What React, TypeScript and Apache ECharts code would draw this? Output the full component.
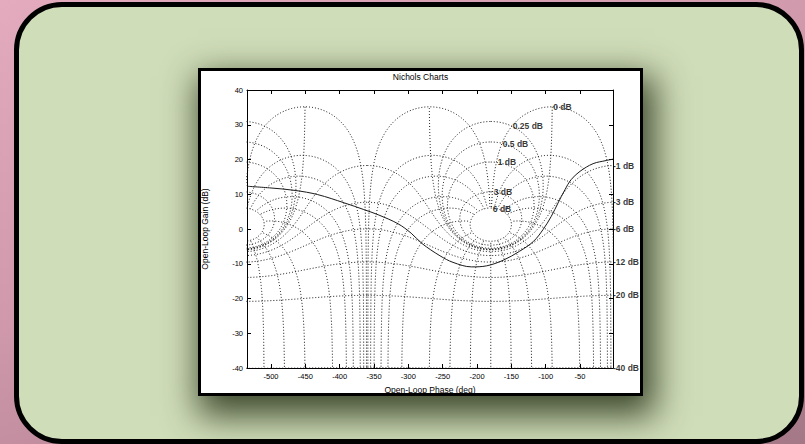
import React, { useEffect, useRef } from "react";
import * as echarts from "echarts";

// ---- axis definitions ----
const phaseMin = -535;
const phaseMax = -2;
const phaseTicks = [-500, -450, -400, -350, -300, -250, -200, -150, -100, -50];
const gainMin = -40;
const gainMax = 40;
const gainStep = 10;

// ---- open-loop response ----
const curvePhase = [-535, -500, -465, -432, -393, -365, -344, -315, -296, -280, -254, -235, -208, -186, -162, -138, -118, -104, -92, -82, -72, -63, -50, -31, -12, -2];
const curveGain = [12.3, 11.8, 11.1, 9.9, 7.5, 5.6, 4.1, 1.5, -1.2, -4.2, -7.7, -9.6, -10.9, -10.6, -9.0, -6.4, -3.6, -0.2, 3.6, 7.5, 11.3, 14.2, 16.6, 18.8, 19.7, 20.1];

// ---- Nichols grid levels ----
const mLevelsDb = [6, 3, 1, 0.5, 0.25, 0, -1, -3, -6, -12, -20, -40];
const nPhasesDeg = [-1, -5, -10, -20, -30, -50, -90, -120, -150, -180, -210, -240, -270, -310, -330, -340, -350, -355, -359];
const gridShifts = [0, -360];

// labels of the closed M-contours (anchor points)
const innerLabelText = ["0 dB", "0.25 dB", "0.5 dB", "1 dB", "3 dB", "6 dB"];
const innerLabelPhase = [-89, -148, -162.6, -170, -175.7, -177];
const innerLabelGain = [35.1, 29.5, 24.5, 19.2, 10.7, 5.8];
// labels at the right edge for the open M-contours
const edgeLabelDb = [-1, -3, -6, -12, -20, -40];

function openLoop(r: number, psi: number) {
  const tr = r * Math.cos(psi);
  const ti = r * Math.sin(psi);
  const br = 1 - tr;
  const bi = -ti;
  const d = br * br + bi * bi;
  const gr = (tr * br + ti * bi) / d;
  const gi = (ti * br - tr * bi) / d;
  return { mag: Math.hypot(gr, gi), ph: (Math.atan2(gi, gr) * 180) / Math.PI };
}

function unwrap(raw: number[]) {
  const out = [raw[0]];
  for (let i = 1; i < raw.length; i++) {
    let p = raw[i];
    const prev = out[i - 1];
    while (p - prev > 180) p -= 360;
    while (p - prev < -180) p += 360;
    out.push(p);
  }
  return out;
}

function mCurve(db: number): number[][] {
  const M = Math.pow(10, db / 20);
  const N = 1400;
  const half = db === 0 ? 179 : 180;
  const ph: number[] = [];
  const gn: number[] = [];
  for (let i = 0; i <= N; i++) {
    const psiDeg = -180 + half * Math.cos((Math.PI * i) / N);
    const g = openLoop(M, (psiDeg * Math.PI) / 180);
    ph.push(g.ph);
    gn.push(20 * Math.log10(g.mag));
  }
  let u = unwrap(ph);
  if (db > 0) {
    const mean = u.reduce((a, b) => a + b, 0) / u.length;
    const k = Math.round((-180 - mean) / 360);
    u = u.map((p) => p + 360 * k);
  } else if (db === 0) {
    const k = Math.round((-90 - u[0]) / 360);
    u = u.map((p) => p + 360 * k);
  } else {
    const k = Math.round((0 - u[0]) / 360);
    u = u.map((p) => p + 360 * k);
  }
  return u.map((p, i) => [p, gn[i]]);
}

function nCurve(psiDeg: number): number[][] {
  const psi = (psiDeg * Math.PI) / 180;
  const s = Math.abs(Math.sin(psi));
  const c = Math.cos(psi);
  const maxDb = Math.max(...mLevelsDb);
  const rMin = Math.pow(10, -50 / 20);
  const rMax = Math.pow(10, maxDb / 20);
  const rs: number[] = [];
  for (let d = -50; d <= maxDb + 1e-9; d += 0.5) rs.push(Math.pow(10, d / 20));
  if (s > 1e-6) {
    const a = Math.atan((rMin - c) / s);
    const b = Math.atan((rMax - c) / s);
    const N = 800;
    for (let i = 0; i <= N; i++) {
      const th = a + ((b - a) * i) / N;
      const r = c + s * Math.tan(th);
      if (r >= rMin && r <= rMax) rs.push(r);
    }
  }
  rs.sort((x, y) => x - y);
  const ph: number[] = [];
  const gn: number[] = [];
  rs.forEach((r) => {
    const g = openLoop(r, psi);
    ph.push(g.ph);
    gn.push(20 * Math.log10(g.mag));
  });
  let u = unwrap(ph);
  const k = Math.round((psiDeg - u[0]) / 360);
  u = u.map((p) => p + 360 * k);
  return u.map((p, i) => [p, gn[i]]);
}

const FONT = "'Liberation Sans', Arial, Helvetica, sans-serif";

export default function App() {
  const ref = useRef<HTMLDivElement>(null);

  useEffect(() => {
    if (!ref.current) return;
    const chart = echarts.init(ref.current, undefined, { renderer: "svg" });

    const dotted = { color: "#111", width: 1, type: [1, 2] as any };
    const series: any[] = [];
    gridShifts.forEach((sh) => {
      mLevelsDb.forEach((db) => {
        series.push({
          type: "line",
          data: mCurve(db).map(([p, g]) => [p + sh, g]),
          showSymbol: false,
          silent: true,
          clip: true,
          lineStyle: dotted,
          z: 2,
        });
      });
      nPhasesDeg.forEach((ps) => {
        series.push({
          type: "line",
          data: nCurve(ps).map(([p, g]) => [p + sh, g]),
          showSymbol: false,
          silent: true,
          clip: true,
          lineStyle: dotted,
          z: 2,
        });
      });
    });

    series.push({
      type: "line",
      data: curvePhase.map((p, i) => [p, curveGain[i]]),
      showSymbol: false,
      smooth: 0.35,
      silent: true,
      lineStyle: { color: "#1a1a1a", width: 1, type: "solid" },
      z: 5,
    });

    const labelStyle = {
      show: true,
      position: "right",
      distance: 0,
      formatter: (p: any) => p.name,
      color: "#000",
      fontSize: 8.5,
      fontWeight: "bold",
      fontFamily: FONT,
    };

    series.push({
      type: "scatter",
      symbolSize: 0,
      silent: true,
      z: 6,
      data: innerLabelText.map((t, i) => ({ name: t, value: [innerLabelPhase[i], innerLabelGain[i]] })),
      label: labelStyle,
    });

    series.push({
      type: "scatter",
      symbolSize: 0,
      silent: true,
      clip: false,
      z: 6,
      data: edgeLabelDb.map((db) => {
        const M = Math.pow(10, db / 20);
        return { name: db + " dB", value: [phaseMax, 20 * Math.log10(M / (1 - M))] };
      }),
      label: labelStyle,
    });

    const axisLine = { show: true, onZero: false, lineStyle: { color: "#000", width: 1 } };
    const tick = { show: true, inside: true, length: 4, lineStyle: { color: "#000", width: 1 } };

    chart.setOption({
      animation: false,
      backgroundColor: "transparent",
      title: {
        text: "Nichols Charts",
        left: "center",
        top: 1,
        padding: 0,
        textStyle: { color: "#000", fontSize: 8.5, fontWeight: "normal", fontFamily: FONT },
      },
      grid: { left: 46, top: 19, width: 366, height: 278, outerBoundsMode: "none" } as any,
      xAxis: [
        {
          type: "value",
          min: phaseMin,
          max: phaseMax,
          position: "bottom",
          axisLine,
          axisTick: { ...tick, customValues: phaseTicks },
          axisLabel: { customValues: phaseTicks, color: "#000", fontSize: 7.5, margin: 4, fontFamily: FONT },
          splitLine: { show: false },
          name: "Open-Loop Phase (deg)",
          nameLocation: "middle",
          nameGap: 17,
          nameTextStyle: { color: "#000", fontSize: 8.5, fontFamily: FONT },
        },
        {
          type: "value",
          min: phaseMin,
          max: phaseMax,
          position: "top",
          axisLine,
          axisTick: { ...tick, customValues: phaseTicks },
          axisLabel: { show: false },
          splitLine: { show: false },
        },
      ],
      yAxis: [
        {
          type: "value",
          min: gainMin,
          max: gainMax,
          interval: gainStep,
          position: "left",
          axisLine,
          axisTick: tick,
          axisLabel: { color: "#000", fontSize: 7.5, margin: 4, fontFamily: FONT },
          splitLine: { show: false },
          name: "Open-Loop Gain (dB)",
          nameLocation: "middle",
          nameGap: 38,
          nameTextStyle: { color: "#000", fontSize: 8.5, fontFamily: FONT },
        },
        {
          type: "value",
          min: gainMin,
          max: gainMax,
          interval: gainStep,
          position: "right",
          axisLine,
          axisTick: tick,
          axisLabel: { show: false },
          splitLine: { show: false },
        },
      ],
      series,
    });

    return () => chart.dispose();
  }, []);

  return (
    <div
      style={{
        position: "fixed",
        left: 0,
        top: 0,
        width: 805,
        height: 444,
        overflow: "hidden",
        background: "linear-gradient(160deg, #e3abbd 0%, #cf98ab 45%, #a47887 100%)",
      }}
    >
      <div
        style={{
          position: "absolute",
          left: 14,
          top: 2,
          width: 790,
          height: 442,
          boxSizing: "border-box",
          border: "5px solid #000",
          borderRadius: 48,
          background: "#d0ddb9",
        }}
      />
      <div
        style={{
          position: "absolute",
          left: 198,
          top: 68,
          width: 445,
          height: 328,
          boxSizing: "border-box",
          border: "3px solid #000",
          background: "#fff",
          boxShadow: "6px 14px 32px 6px rgba(40, 50, 25, 0.85)",
        }}
      >
        <div ref={ref} style={{ width: 439, height: 322 }} />
      </div>
    </div>
  );
}
